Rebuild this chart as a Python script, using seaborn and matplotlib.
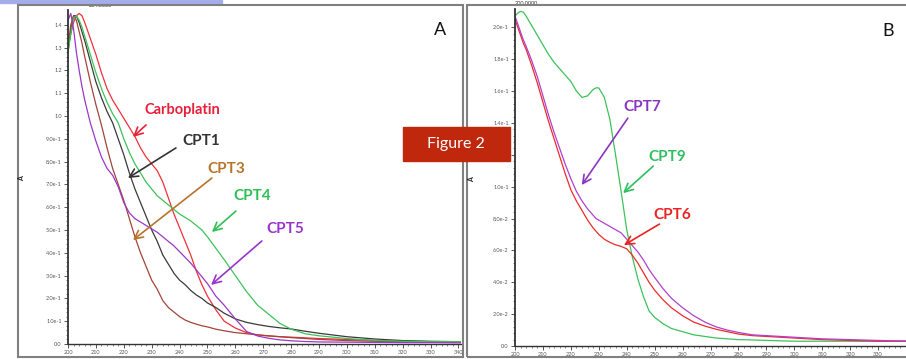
import matplotlib
matplotlib.use("Agg")
import matplotlib.pyplot as plt
from matplotlib.patches import Rectangle
import numpy as np
import pandas as pd
import seaborn as sns

# ---- panel A data (wavelength nm, absorbance) ----
wl_a = [200, 201, 202, 203, 204, 205, 206, 208, 210, 212, 214, 216, 218, 220, 222, 224,
        226, 228, 230, 232, 234, 236, 238, 240, 242, 244, 246, 248, 250, 253, 256, 260,
        264, 268, 272, 276, 280, 285, 290, 300, 310, 320, 330, 341]
carboplatin = [1.30, 1.36, 1.41, 1.44, 1.45, 1.44, 1.41, 1.34, 1.27, 1.19, 1.12, 1.07, 1.03, 0.99,
               0.95, 0.91, 0.86, 0.82, 0.79, 0.76, 0.71, 0.64, 0.57, 0.51, 0.45, 0.39, 0.32, 0.26,
               0.21, 0.15, 0.10, 0.07, 0.05, 0.04, 0.035, 0.032, 0.03, 0.027, 0.024, 0.02, 0.016,
               0.012, 0.01, 0.01]
cpt1 = [1.28, 1.38, 1.44, 1.44, 1.41, 1.37, 1.33, 1.24, 1.15, 1.08, 1.02, 0.97, 0.90, 0.83,
        0.75, 0.68, 0.62, 0.56, 0.50, 0.45, 0.39, 0.35, 0.31, 0.28, 0.26, 0.235, 0.215, 0.20,
        0.18, 0.16, 0.135, 0.11, 0.095, 0.085, 0.077, 0.071, 0.066, 0.056, 0.047, 0.032, 0.022,
        0.015, 0.012, 0.01]
cpt3 = [1.30, 1.40, 1.44, 1.42, 1.37, 1.32, 1.26, 1.15, 1.05, 0.96, 0.86, 0.77, 0.70, 0.63,
        0.55, 0.47, 0.40, 0.34, 0.28, 0.24, 0.19, 0.16, 0.14, 0.12, 0.105, 0.095, 0.087, 0.08,
        0.075, 0.065, 0.058, 0.05, 0.045, 0.04, 0.036, 0.032, 0.028, 0.024, 0.02, 0.015, 0.012,
        0.01, 0.01, 0.01]
cpt4 = [1.28, 1.36, 1.43, 1.44, 1.42, 1.39, 1.35, 1.27, 1.19, 1.12, 1.06, 1.01, 0.97, 0.90,
        0.84, 0.79, 0.75, 0.71, 0.68, 0.65, 0.63, 0.61, 0.59, 0.57, 0.555, 0.54, 0.52, 0.50,
        0.47, 0.42, 0.37, 0.30, 0.23, 0.17, 0.13, 0.09, 0.065, 0.045, 0.036, 0.024, 0.016,
        0.012, 0.01, 0.01]
cpt5 = [1.42, 1.45, 1.38, 1.28, 1.20, 1.13, 1.07, 0.97, 0.89, 0.82, 0.77, 0.74, 0.69, 0.62,
        0.575, 0.55, 0.535, 0.52, 0.505, 0.49, 0.47, 0.45, 0.43, 0.405, 0.38, 0.355, 0.325,
        0.295, 0.265, 0.21, 0.17, 0.11, 0.055, 0.035, 0.025, 0.018, 0.014, 0.011, 0.009,
        0.008, 0.007, 0.006, 0.006, 0.005]

# ---- panel B data ----
wl_b = [200, 201, 202, 203, 204, 206, 208, 210, 212, 214, 216, 218, 220, 222, 224, 226, 228,
        229, 230, 232, 234, 236, 238, 240, 242, 244, 246, 248, 250, 253, 256, 260, 264, 268,
        272, 276, 280, 285, 290, 300, 310, 320, 330, 342]
cpt9 = [0.207, 0.209, 0.210, 0.2095, 0.207, 0.201, 0.195, 0.189, 0.183, 0.178, 0.174, 0.170,
        0.166, 0.160, 0.156, 0.157, 0.161, 0.162, 0.162, 0.156, 0.142, 0.12, 0.097, 0.073,
        0.056, 0.042, 0.031, 0.022, 0.018, 0.014, 0.011, 0.009, 0.007, 0.006, 0.005, 0.0045,
        0.004, 0.0038, 0.0035, 0.003, 0.003, 0.003, 0.003, 0.003]
cpt6 = [0.205, 0.200, 0.195, 0.190, 0.186, 0.176, 0.165, 0.153, 0.141, 0.130, 0.119, 0.108,
        0.098, 0.091, 0.085, 0.079, 0.074, 0.072, 0.070, 0.067, 0.065, 0.0635, 0.0625, 0.061,
        0.057, 0.052, 0.046, 0.040, 0.035, 0.029, 0.024, 0.019, 0.015, 0.0125, 0.0105, 0.009,
        0.0075, 0.0065, 0.006, 0.005, 0.004, 0.0035, 0.003, 0.003]
cpt7 = [0.207, 0.202, 0.197, 0.192, 0.188, 0.179, 0.169, 0.157, 0.145, 0.134, 0.124, 0.114,
        0.105, 0.097, 0.091, 0.086, 0.082, 0.080, 0.079, 0.077, 0.075, 0.073, 0.071, 0.067,
        0.063, 0.059, 0.054, 0.048, 0.043, 0.036, 0.030, 0.024, 0.019, 0.015, 0.012, 0.010,
        0.0085, 0.007, 0.0065, 0.0055, 0.0045, 0.004, 0.0035, 0.003]

yticks_a = [0.0, 0.1, 0.2, 0.3, 0.4, 0.5, 0.6, 0.7, 0.8, 0.9, 1.0, 1.1, 1.2, 1.3, 1.4]
ylabels_a = ["0.0", "1.0e-1", "2.0e-1", "3.0e-1", "4.0e-1", "5.0e-1", "6.0e-1", "7.0e-1",
             "8.0e-1", "9.0e-1", "1.0", "1.1", "1.2", "1.3", "1.4"]
yticks_b = [0.0, 0.02, 0.04, 0.06, 0.08, 0.10, 0.12, 0.14, 0.16, 0.18, 0.20]
ylabels_b = ["0.0", "2.0e-2", "4.0e-2", "6.0e-2", "8.0e-2", "1.0e-1", "1.2e-1", "1.4e-1",
             "1.6e-1", "1.8e-1", "2.0e-1"]
xticks_a = list(range(200, 341, 10))
xticks_b = list(range(200, 331, 10))

df_a = pd.concat([pd.DataFrame({"wl": wl_a, "abs": v, "sample": n}) for n, v in
                  [("Carboplatin", carboplatin), ("CPT1", cpt1), ("CPT3", cpt3),
                   ("CPT4", cpt4), ("CPT5", cpt5)]])
df_b = pd.concat([pd.DataFrame({"wl": wl_b, "abs": v, "sample": n}) for n, v in
                  [("CPT9", cpt9), ("CPT6", cpt6), ("CPT7", cpt7)]])

pal_a = {"Carboplatin": "#f0303a", "CPT1": "#3a3a3a", "CPT3": "#a3443a",
         "CPT4": "#3cc25a", "CPT5": "#9a38c8"}
pal_b = {"CPT9": "#3cc25a", "CPT6": "#ee2a2a", "CPT7": "#b040cc"}

sns.set_theme(style="white")
plt.rcParams["font.family"] = ["Lato", "DejaVu Sans"]

W, H = 906, 359
fig = plt.figure(figsize=(W / 100, H / 100), dpi=100)

# panel frames and the small strip at the top
fig.patches.append(Rectangle((0, 1 - 3 / H), 222 / W, 3 / H, transform=fig.transFigure,
                             color="#a3ade8", zorder=0))
fig.patches.append(Rectangle((18 / W, 2 / H), 445 / W, 352 / H, transform=fig.transFigure,
                             fill=False, ec="#808080", lw=1.5, zorder=0))
fig.patches.append(Rectangle((467 / W, 2 / H), 445 / W, 352 / H, transform=fig.transFigure,
                             fill=False, ec="#808080", lw=1.5, zorder=0))

ax1 = fig.add_axes([68 / W, 15 / H, 393 / W, 334 / H])
ax2 = fig.add_axes([515 / W, 13 / H, 391 / W, 337 / H])

sns.lineplot(data=df_a, x="wl", y="abs", hue="sample", palette=pal_a, estimator=None,
             legend=False, lw=0.9, ax=ax1)
sns.lineplot(data=df_b, x="wl", y="abs", hue="sample", palette=pal_b, estimator=None,
             legend=False, lw=0.9, ax=ax2)

ax1.set_xlim(200, 340.9)
ax1.set_ylim(0, 1.465)
ax2.set_xlim(200, 337.4)
ax2.set_ylim(0, 0.2115)

for ax, xt, yt, yl, ymin in [(ax1, xticks_a, yticks_a, ylabels_a, 0.02),
                             (ax2, xticks_b, yticks_b, ylabels_b, 0.004)]:
    ax.patch.set_alpha(0)
    ax.set_xticks(xt)
    ax.set_xticklabels([str(t) for t in xt])
    ax.set_yticks(yt)
    ax.set_yticklabels(yl)
    ax.set_xticks(np.arange(200, 342, 2), minor=True)
    ax.set_yticks(np.arange(0, yt[-1] + ymin, ymin), minor=True)
    ax.tick_params(which="major", direction="out", length=3, width=0.7, colors="#555555",
                   labelsize=4, pad=1.5, bottom=True, left=True)
    ax.tick_params(which="minor", direction="out", length=1.5, width=0.5, colors="#555555",
                   bottom=True, left=True)
    for s in ["top", "right"]:
        ax.spines[s].set_visible(False)
    ax.spines["left"].set_color("#333333")
    ax.spines["bottom"].set_color("#333333")
    ax.spines["left"].set_linewidth(1.3)
    ax.spines["bottom"].set_linewidth(1.0)
    ax.set_xlabel("")
    ax.set_ylabel("")

# peak labels and panel letters
ax1.text(211.5, 1.474, "204.0000", fontsize=4, color="#333333", ha="center", va="bottom",
         clip_on=False)
ax2.text(204.2, 0.2135, "200.0000", fontsize=4, color="#333333", ha="center", va="bottom",
         clip_on=False)
ax1.text(333.3, 1.377, "A", fontsize=13, color="#111111", ha="center", va="center")
ax2.text(333.5, 0.198, "B", fontsize=13, color="#111111", ha="center", va="center")
fig.text(22 / W, 1 - 179 / H, "A", fontsize=5, fontweight="bold", rotation=90,
         ha="center", va="center", color="#222222")
fig.text(472 / W, 1 - 180 / H, "A", fontsize=5, fontweight="bold", rotation=90,
         ha="center", va="center", color="#222222")

# curve labels with arrows: (axis, text, text pos, arrow start, arrow tip, colour)
labels = [
    (ax1, "Carboplatin", (240.9, 1.026), (228.0, 0.961), (223.3, 0.908), "#e8203a"),
    (ax1, "CPT1", (247.7, 0.890), (238.7, 0.860), (221.5, 0.728), "#333333"),
    (ax1, "CPT3", (256.6, 0.768), (251.6, 0.728), (223.3, 0.456), "#b8732a"),
    (ax1, "CPT4", (265.9, 0.649), (260.2, 0.583), (251.6, 0.491), "#2fbf55"),
    (ax1, "CPT5", (277.8, 0.504), (269.5, 0.452), (251.3, 0.259), "#9a33cc"),
    (ax2, "CPT7", (245.7, 0.1498), (240.4, 0.143), (223.9, 0.101), "#8a35c0"),
    (ax2, "CPT9", (254.5, 0.1185), (249.5, 0.1129), (238.7, 0.0959), "#2fbf60"),
    (ax2, "CPT6", (256.2, 0.0821), (251.7, 0.0765), (239.0, 0.0633), "#ee2222"),
]
for ax, txt, tpos, start, tip, col in labels:
    ax.text(*tpos, txt, fontsize=10.5 if txt == "Carboplatin" else 11, fontweight="bold",
            color=col, ha="center", va="center")
    ax.annotate("", xy=tip, xytext=start,
                arrowprops=dict(arrowstyle="->,head_length=0.5,head_width=0.25",
                                color=col, lw=1.2, shrinkA=0, shrinkB=0))

# "Figure 2" tag
fig.patches.append(Rectangle((403 / W, 1 - 161 / H), 107 / W, 34 / H,
                             transform=fig.transFigure, color="#c0280e", zorder=5))
fig.text(456 / W, 1 - 144 / H, "Figure 2", fontsize=11.5, color="white",
         ha="center", va="center", zorder=6)

fig.savefig("out.png", dpi=100)
